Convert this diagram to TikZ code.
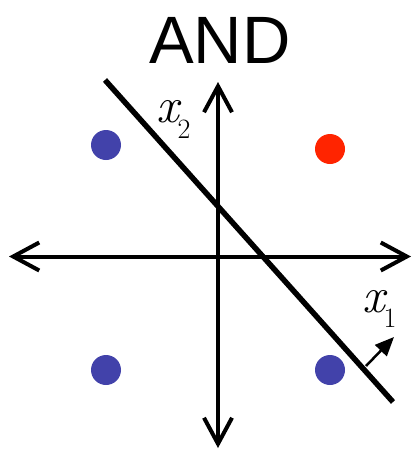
\documentclass[tikz,border=0pt]{standalone}
\usepackage{fontspec}
\newfontfamily\arialfont{Liberation Sans}
\usetikzlibrary{arrows.meta}
\definecolor{dotblue}{RGB}{66,66,170}
\definecolor{dotred}{RGB}{255,36,0}
\tikzset{
  axisline/.style={line width=4pt, {Straight Barb[length=26pt,width=28pt]}-{Straight Barb[length=26pt,width=28pt]}},
  sepline/.style={line width=5.5pt},
  normalarrow/.style={line width=2.5pt, -{Triangle[length=19pt,width=16pt]}},
  dotnode/.style={circle, minimum size=30pt, inner sep=0pt},
  lbl/.style={anchor=base west, inner sep=0pt},
}
\begin{document}
\begin{tikzpicture}[x=1pt,y=-1pt]
\useasboundingbox (0,0) rectangle (412,450);
% title
\node[anchor=base, inner sep=0pt] (title) at (220,63) {\arialfont\fontsize{67}{67}\selectfont AND};
% axes
\coordinate (xl) at (9,256.5);
\coordinate (xr) at (411,256.5);
\coordinate (yt) at (218,82);
\coordinate (yb) at (218,448);
\draw[axisline] (xl) -- (xr);
\draw[axisline] (yb) -- (yt);
% dots
\node[dotnode, fill=dotblue] (d1) at (106,145) {};
\node[dotnode, fill=dotred] (d2) at (330,149) {};
\node[dotnode, fill=dotblue] (d3) at (106,370) {};
\node[dotnode, fill=dotblue] (d4) at (330,370) {};
% separating line
\coordinate (ls) at (105,80);
\coordinate (le) at (393,402);
\draw[sepline] (ls) -- (le);
% normal arrow
\coordinate (na) at (366,366);
\coordinate (nb) at (394,337);
\draw[normalarrow] (na) -- (nb);
% labels
\node[lbl] (lx2) at (156,122) {\fontsize{50}{50}\selectfont\itshape x\upshape\kern-1pt\raisebox{-16pt}{\fontsize{28}{28}\selectfont 2}};
\node[lbl] (lx1) at (362,312) {\fontsize{50}{50}\selectfont\itshape x\upshape\kern-1pt\raisebox{-15pt}{\fontsize{28}{28}\selectfont 1}};
\end{tikzpicture}
\end{document}
